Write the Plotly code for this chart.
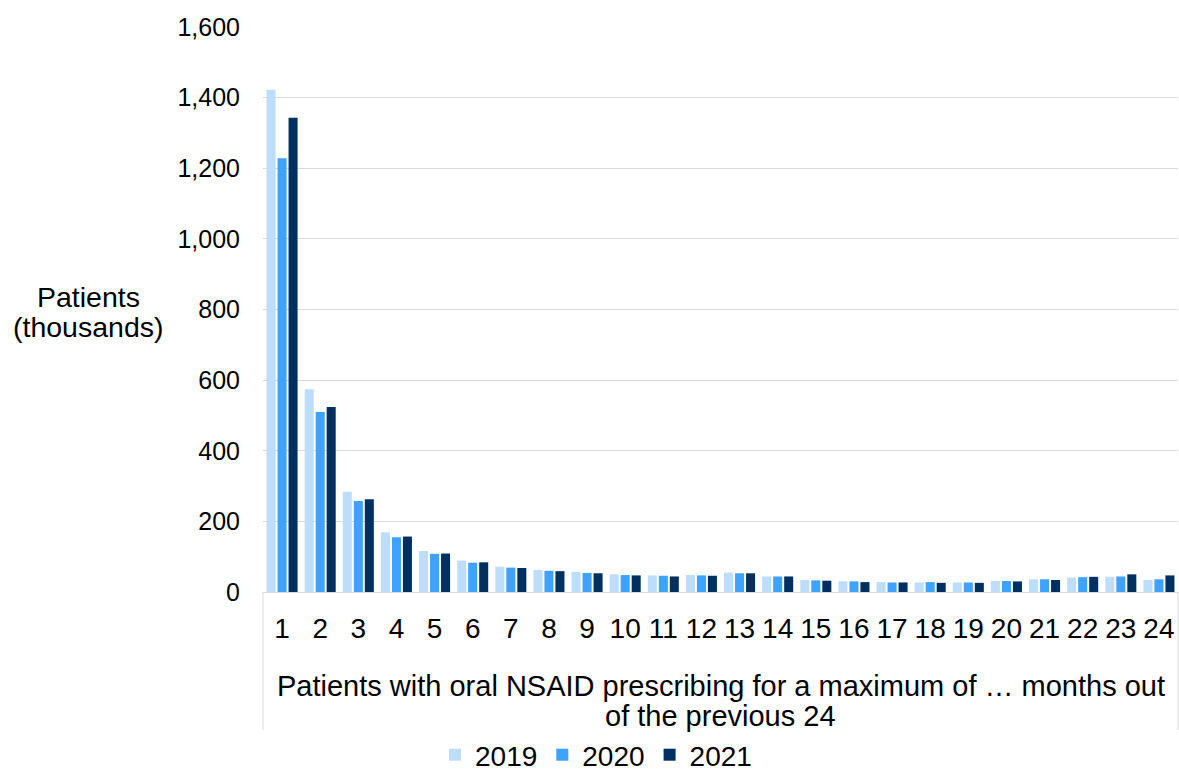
import plotly.graph_objects as go

categories = [str(i) for i in range(1, 25)]
y2019 = [1422, 574, 284, 169, 116, 89, 72, 62, 57, 50, 47, 48, 55, 44, 34, 30, 28, 27, 27, 31, 36, 41, 43, 34]
y2020 = [1228, 510, 258, 155, 108, 83, 69, 60, 54, 48, 46, 47, 53, 44, 33, 30, 27, 28, 27, 31, 36, 42, 44, 36]
y2021 = [1343, 524, 263, 157, 109, 84, 68, 59, 53, 47, 44, 46, 53, 44, 32, 28, 27, 26, 26, 30, 34, 43, 50, 47]
series_names = ["2019", "2020", "2021"]
colors = ["#BDDDFB", "#3FA2FF", "#00305F"]
y_title_lines = ["Patients", "(thousands)"]
x_title_lines = ["Patients with oral NSAID prescribing for a maximum of \u2026 months out",
                 "of the previous 24"]

FONT = "Liberation Sans, Arial, sans-serif"

fig = go.Figure()
for name, vals, col in zip(series_names, [y2019, y2020, y2021], colors):
    fig.add_trace(go.Bar(x=categories, y=vals, name=name, marker_color=col,
                         marker_line_width=0))

W, H = 1179, 771
L, R, T, B = 263, 1, 27, 179
pw = W - L - R
ph = H - T - B

def px_to_paper_x(px):
    return (px - L) / pw

def px_to_paper_y(py):
    return (H - B - py) / ph

fig.update_layout(
    width=W, height=H,
    margin=dict(l=L, r=R, t=T, b=B, pad=0, autoexpand=False),
    paper_bgcolor="white", plot_bgcolor="white",
    font=dict(family=FONT, size=28, color="#000000"),
    barmode="group", bargap=0.134, bargroupgap=0.18,
    showlegend=True,
    legend=dict(orientation="h", x=px_to_paper_x(596), xanchor="center",
                y=px_to_paper_y(755), yanchor="middle",
                font=dict(size=28), itemwidth=30, traceorder="normal"),
)
fig.update_yaxes(range=[0, 1600], dtick=200, tickformat=",",
                 showgrid=True, gridcolor="#D9D9D9", gridwidth=1,
                 zeroline=False, showline=False,
                 ticks="outside", ticklen=17, tickcolor="rgba(0,0,0,0)",
                 tickfont=dict(size=25))
fig.update_xaxes(type="category", showline=True, linecolor="#D9D9D9", linewidth=1,
                 ticks="outside", ticklen=11, tickcolor="rgba(0,0,0,0)",
                 tickfont=dict(size=28), showgrid=False)

# Y axis title (two lines)
for txt, py in zip(y_title_lines, [297, 327]):
    fig.add_annotation(xref="paper", yref="paper", x=px_to_paper_x(88), y=px_to_paper_y(py),
                       text=txt, showarrow=False, xanchor="center", yanchor="middle",
                       font=dict(size=28.5))
# X axis title (two lines)
for txt, py in zip(x_title_lines, [686, 716]):
    fig.add_annotation(xref="paper", yref="paper", x=0.5, y=px_to_paper_y(py),
                       text=txt, showarrow=False, xanchor="center", yanchor="middle",
                       font=dict(size=29))
# Category box lines
for xp in [0, 1]:
    fig.add_shape(type="line", xref="paper", yref="paper", x0=xp, x1=xp,
                  y0=0, y1=px_to_paper_y(730), line=dict(color="#D9D9D9", width=1))

fig.write_html("out.html")
